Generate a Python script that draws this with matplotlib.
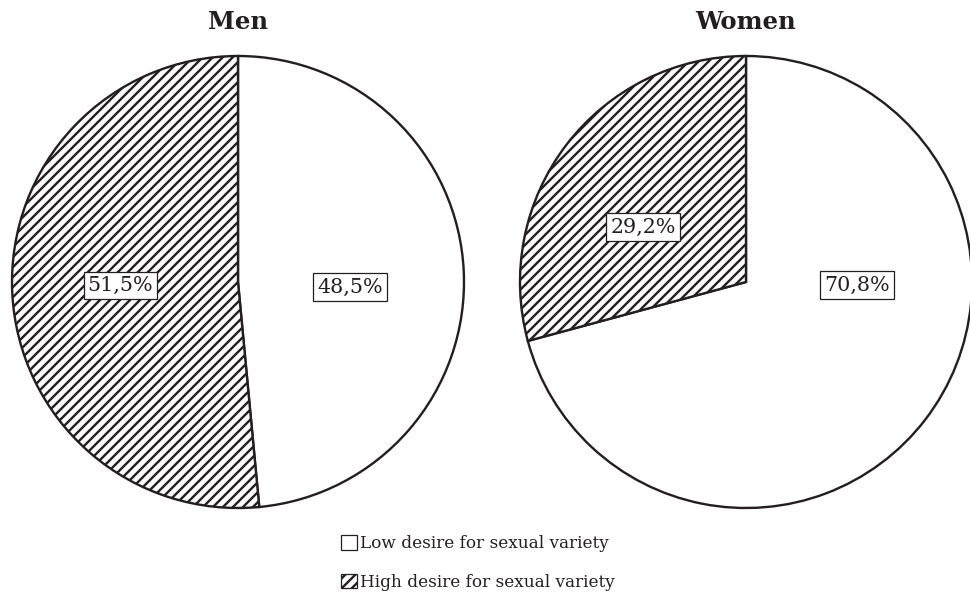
import matplotlib
matplotlib.use("Agg")
import matplotlib.pyplot as plt
from matplotlib.patches import Patch

# shares (%) per group, order: low desire, high desire
groups = ["Men", "Women"]
low_desire = [48.5, 70.8]
high_desire = [51.5, 29.2]
legend_labels = ["Low desire for sexual variety", "High desire for sexual variety"]

ink = "#231f20"
hatch_style = "///"

plt.rcParams["font.family"] = ["DejaVu Serif"]
plt.rcParams["hatch.linewidth"] = 1.9
plt.rcParams["hatch.color"] = ink

DPI = 90
W, H = 970, 597
fig = plt.figure(figsize=(W / DPI, H / DPI), dpi=DPI)

r_px = 226
centres = [(238, 282), (746, 282)]
# where each value box sits, in pie radius units
label_xy = [
    [(0.495, -0.022), (-0.52, -0.015)],
    [(0.49, -0.013), (-0.456, 0.243)],
]

for i, name in enumerate(groups):
    cx, cy = centres[i]
    ax = fig.add_axes([(cx - r_px) / W, (H - cy - r_px) / H, 2 * r_px / W, 2 * r_px / H])
    vals = [low_desire[i], high_desire[i]]
    wedges, _ = ax.pie(vals, startangle=90, counterclock=False,
                       wedgeprops=dict(edgecolor=ink, linewidth=1.9, clip_on=False))
    wedges[0].set_facecolor("white")
    wedges[1].set_facecolor("white")
    wedges[1].set_hatch(hatch_style)
    ax.set_xlim(-1, 1)
    ax.set_ylim(-1, 1)
    ax.set_aspect("equal")
    ax.axis("off")
    for v, (lx, ly) in zip(vals, label_xy[i]):
        ax.text(lx, ly, f"{v:.1f}%".replace(".", ","), ha="center", va="center",
                fontsize=16.5, color=ink,
                bbox=dict(boxstyle="square,pad=0.2", facecolor="white",
                          edgecolor=ink, linewidth=1.0))
    fig.text(cx / W, 1 - 22 / H, name, ha="center", va="center",
             fontsize=19.5, fontweight="bold", color=ink)

handles = [
    Patch(facecolor="white", edgecolor=ink, linewidth=1.0),
    Patch(facecolor="white", edgecolor=ink, linewidth=1.0, hatch=hatch_style),
]
fig.legend(handles, legend_labels, loc="center", bbox_to_anchor=(478 / W, 1 - 563 / H),
           frameon=False, fontsize=13.5, handlelength=0.95, handleheight=0.95,
           handletextpad=0.2, labelspacing=1.25, labelcolor=ink)

fig.savefig("out.png", dpi=DPI, facecolor="white")
